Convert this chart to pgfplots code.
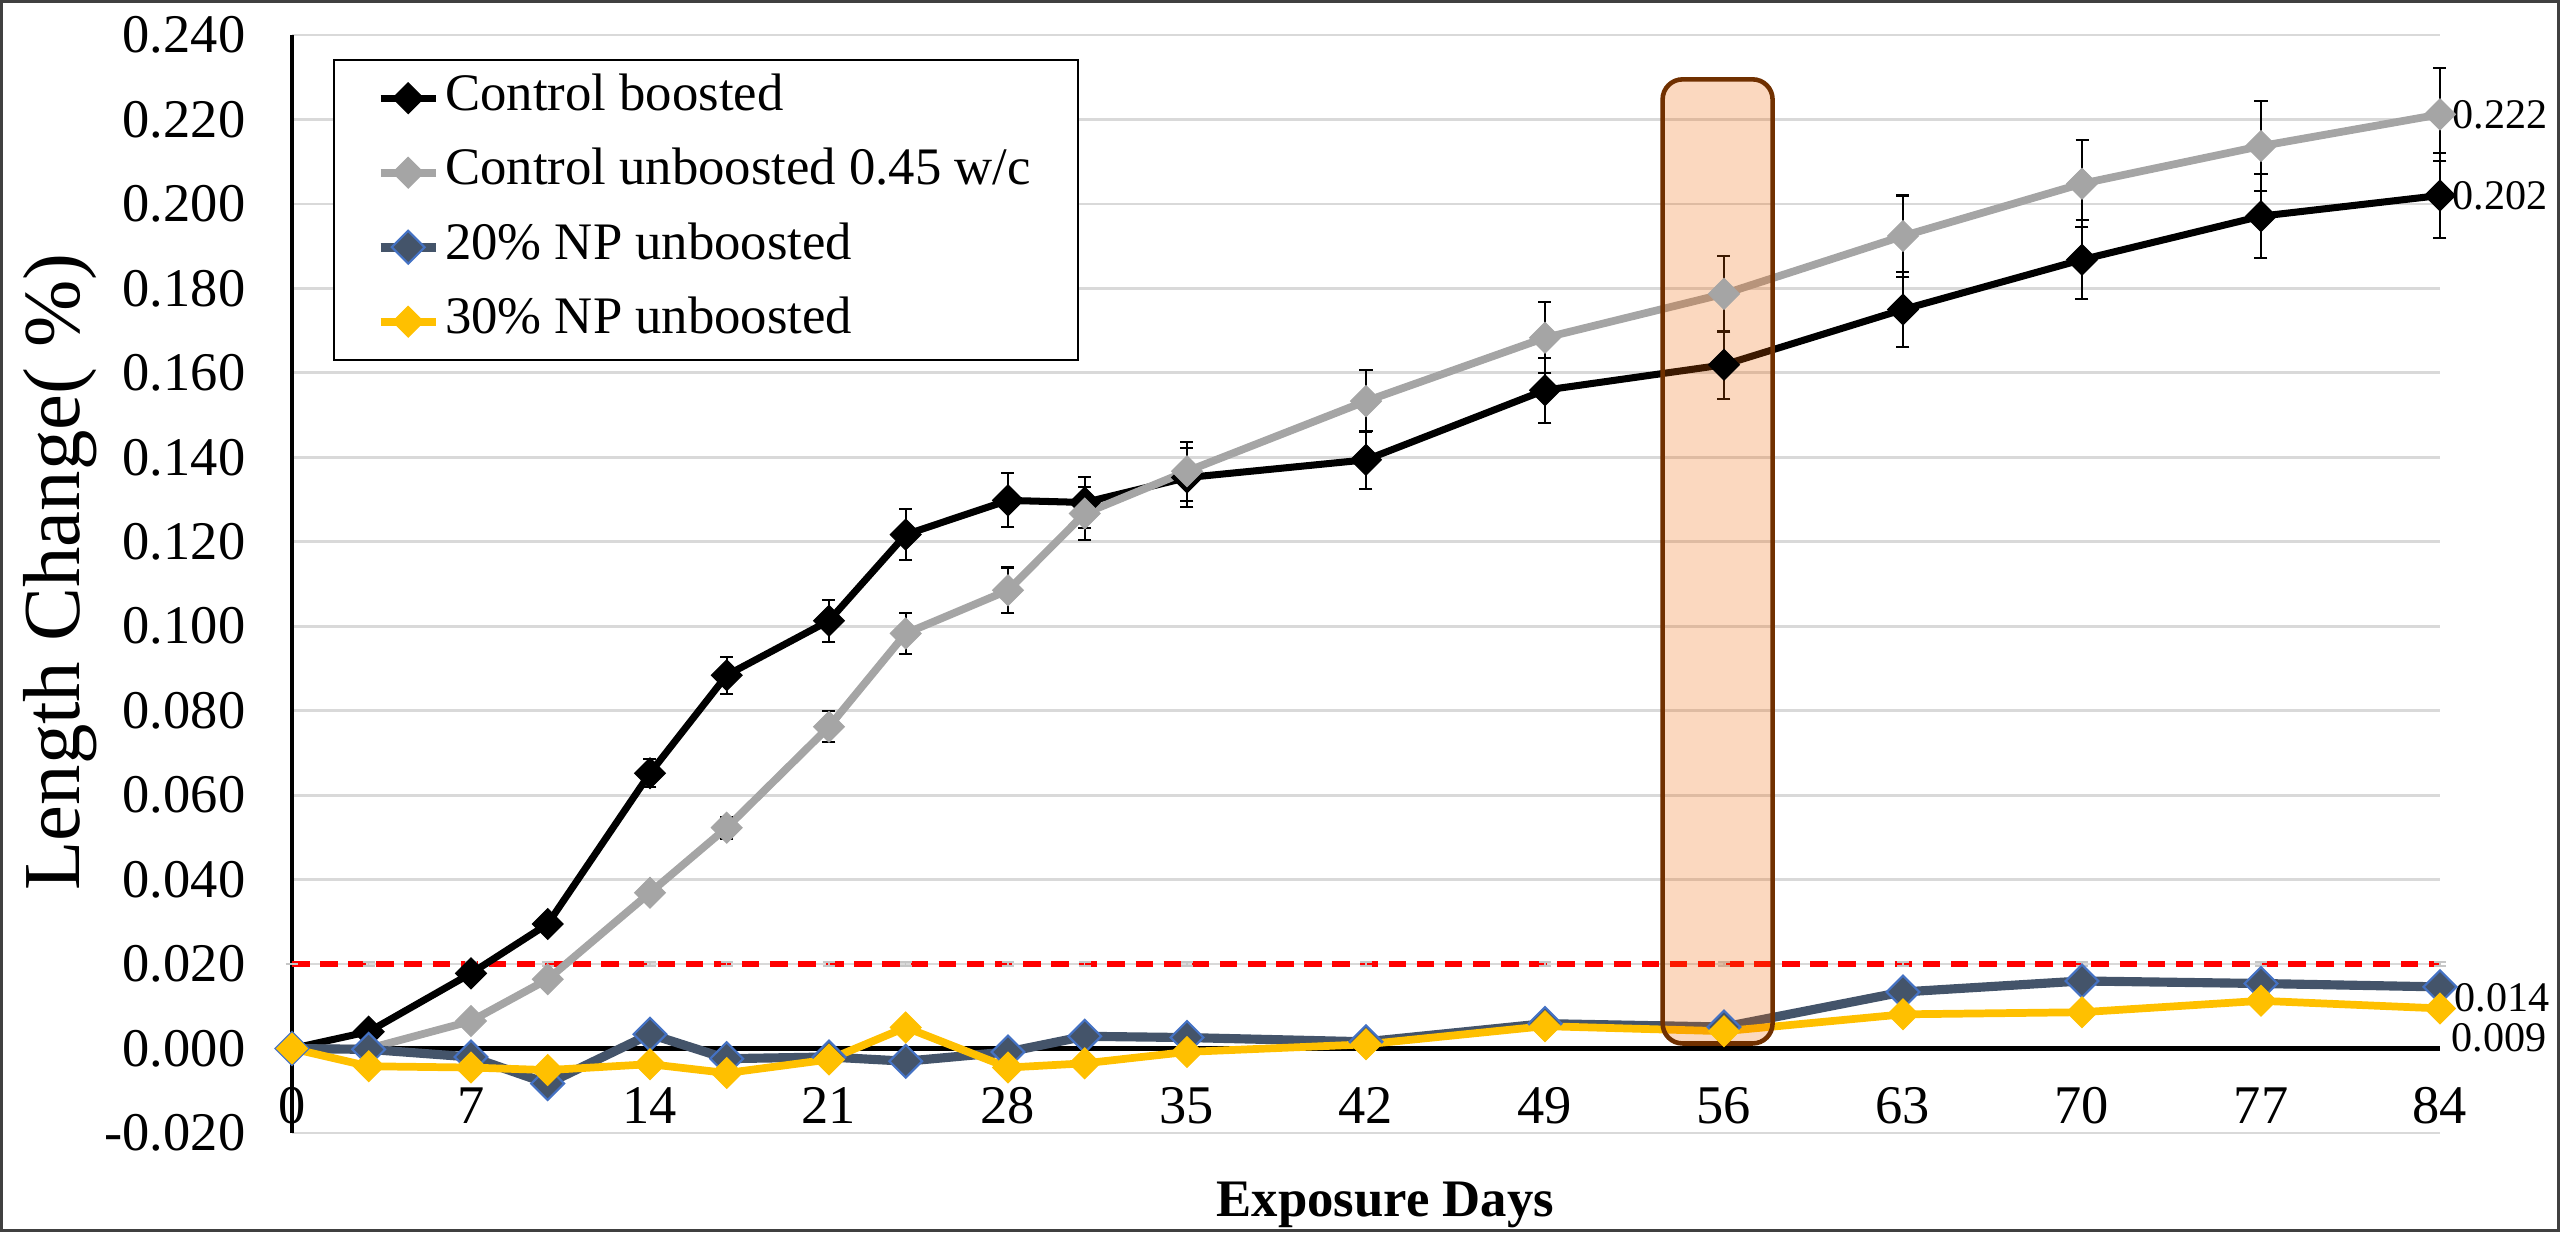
\documentclass[border=0pt]{standalone}
\usepackage{fontspec}
\setmainfont{Liberation Serif}
\usepackage{pgfplots}
\pgfplotsset{compat=1.18}
\usepackage{pgfplotstable}
\usetikzlibrary{calc}

\definecolor{ctrlgray}{HTML}{A5A5A5}
\definecolor{npblue}{HTML}{44546A}
\definecolor{npedge}{HTML}{4472C4}
\definecolor{npyellow}{HTML}{FFC000}
\definecolor{boxedge}{RGB}{112,48,0}
\definecolor{boxfill}{RGB}{240,100,0}
\definecolor{gridgray}{HTML}{D9D9D9}

\newcommand{\tickfont}{\fontsize{15.5}{18}\selectfont}
\newcommand{\legfont}{\fontsize{15}{18}\selectfont}
\newcommand{\valfont}{\fontsize{12}{14}\selectfont}

% day, mean, error
\pgfplotstableread{
day val err
0  0.0000 0
3  0.0040 0.0005
7  0.0178 0.0008
10 0.0295 0.0010
14 0.0652 0.0033
17 0.0884 0.0044
21 0.1013 0.0050
24 0.1217 0.0060
28 0.1298 0.0064
31 0.1293 0.0060
35 0.1352 0.0070
42 0.1394 0.0069
49 0.1559 0.0077
56 0.1619 0.0080
63 0.1750 0.0088
70 0.1868 0.0093
77 0.1971 0.0099
84 0.2020 0.0101
}\boosted

\pgfplotstableread{
day val err
0  0.0000 0
3  0.0000 0
7  0.0065 0.0005
10 0.0164 0.0008
14 0.0369 0.0017
17 0.0523 0.0026
21 0.0762 0.0037
24 0.0983 0.0048
28 0.1085 0.0054
31 0.1267 0.0063
35 0.1367 0.0070
42 0.1533 0.0074
49 0.1683 0.0084
56 0.1787 0.0090
63 0.1924 0.0096
70 0.2048 0.0103
77 0.2137 0.0107
84 0.2212 0.0110
}\unboosted

\pgfplotstableread{
day val
0  0.0000
3  -0.0002
7  -0.0020
10 -0.0083
14 0.0034
17 -0.0024
21 -0.0020
24 -0.0030
28 -0.0008
31 0.0029
35 0.0026
42 0.0016
49 0.0059
56 0.0051
63 0.0134
70 0.0160
77 0.0154
84 0.0146
}\nptwenty

\pgfplotstableread{
day val
0  0.0000
3  -0.0042
7  -0.0045
10 -0.0051
14 -0.0037
17 -0.0058
21 -0.0026
24 0.0050
28 -0.0045
31 -0.0035
35 -0.0008
42 0.0010
49 0.0053
56 0.0041
63 0.0081
70 0.0086
77 0.0113
84 0.0095
}\npthirty

\pgfplotstableread{
day val err
0  0.020 0
3  0.020 0.0005
7  0.020 0.0005
10 0.020 0.0005
14 0.020 0.0005
17 0.020 0.0005
21 0.020 0.0005
24 0.020 0.0005
28 0.020 0.0005
31 0.020 0.0005
35 0.020 0.0005
42 0.020 0.0005
49 0.020 0.0005
56 0.020 0.0005
63 0.020 0.0005
70 0.020 0.0005
77 0.020 0.0005
84 0.020 0.0005
}\limitline

\begin{document}
\begin{tikzpicture}
\begin{axis}[
    scale only axis,
    width=21.48cm, height=10.98cm,
    xmin=0, xmax=84, ymin=-0.02, ymax=0.24,
    clip=false,
    axis x line=middle, axis y line=left,
    axis line style={-},
    x axis line style={black, line width=1.4pt},
    y axis line style={black, line width=1.1pt},
    hide obscured x ticks=false,
    xtick={0,7,14,21,28,35,42,49,56,63,70,77,84},
    ytick={-0.02,0,0.02,0.04,0.06,0.08,0.1,0.12,0.14,0.16,0.18,0.2,0.22,0.24},
    yticklabels={-0.020,0.000,0.020,0.040,0.060,0.080,0.100,0.120,0.140,0.160,0.180,0.200,0.220,0.240},
    /pgf/number format/assume math mode=true,
    scaled y ticks=false,
    major tick length=0pt,
    ymajorgrids,
    grid style={gridgray, line width=0.8pt},
    tick label style={font=\tickfont},
    xticklabel style={anchor=center, yshift=-0.57cm},
    yticklabel style={anchor=east, inner sep=0pt, xshift=-0.46cm},
    xlabel={\textbf{Exposure Days}},
    ylabel={Length Change( \%)},
    xlabel style={at={(rel axis cs:0.509,-0.0656)}, anchor=center, font=\fontsize{15}{18}\selectfont},
    ylabel style={at={(rel axis cs:-0.108,0.511)}, anchor=center, font=\fontsize{23}{27}\selectfont},
    legend cell align=left,
    legend style={at={(rel axis cs:0.0191,0.978)}, anchor=north west,
        draw=black, line width=0.6pt, fill=white, font=\legfont,
        inner xsep=0.42cm, inner ysep=0.13cm, row sep=0.245cm,
        nodes={inner xsep=0.05cm, inner ysep=0pt, text height=0.37cm, text depth=0.13cm}},
    legend image code/.code={
        \draw[mark repeat=2, mark phase=2] plot coordinates {(0cm,0cm) (0.275cm,0cm) (0.55cm,0cm)};
    },
]

% expansion limit
\addplot[red, line width=1.6pt, dash pattern=on 5pt off 3pt, forget plot,
    error bars/.cd, y dir=both, y explicit,
    error bar style={gray!45, line width=0.4pt, solid},
    error mark options={rotate=90, gray!45, mark size=0.06cm, line width=0.4pt, solid}]
    table[x=day, y=val, y error=err] {\limitline};

\addplot[black, line width=2pt, mark=square*,
    mark options={rotate=45, mark size=3.1pt, line width=0.3pt, solid, fill=black},
    error bars/.cd, y dir=both, y explicit,
    error bar style={black, line width=0.6pt},
    error mark options={rotate=90, black, mark size=0.065cm, line width=0.6pt}]
    table[x=day, y=val, y error=err] {\boosted};
\addlegendentry{Control boosted}

\addplot[ctrlgray, line width=2.2pt, mark=square*,
    mark options={rotate=45, mark size=3.1pt, line width=0.3pt, solid, fill=ctrlgray},
    error bars/.cd, y dir=both, y explicit,
    error bar style={black, line width=0.6pt},
    error mark options={rotate=90, black, mark size=0.065cm, line width=0.6pt}]
    table[x=day, y=val, y error=err] {\unboosted};
\addlegendentry{Control unboosted 0.45 w/c}

\addplot[npblue, line width=2.6pt, mark=square*,
    mark options={rotate=45, mark size=3.3pt, line width=0.6pt, solid, draw=npedge, fill=npblue}]
    table[x=day, y=val] {\nptwenty};
\addlegendentry{20\% NP unboosted}

\addplot[npyellow, line width=2.2pt, mark=square*,
    mark options={rotate=45, mark size=3.1pt, line width=0.3pt, solid, fill=npyellow}]
    table[x=day, y=val] {\npthirty};
\addlegendentry{30\% NP unboosted}

% highlight of day 56
\fill[boxfill, opacity=0.25, rounded corners=0.2cm]
    (axis cs:53.6,0.0012) rectangle (axis cs:57.9,0.2295);
\draw[boxedge, line width=1.3pt, rounded corners=0.2cm]
    (axis cs:53.6,0.0012) rectangle (axis cs:57.9,0.2295);

% end values
\node[anchor=west, inner sep=0pt, xshift=0.12cm, font=\valfont] at (axis cs:84,0.2212) {0.222};
\node[anchor=west, inner sep=0pt, xshift=0.12cm, font=\valfont] at (axis cs:84,0.2020) {0.202};
\node[anchor=west, inner sep=0pt, xshift=0.14cm, yshift=-0.11cm, font=\valfont] at (axis cs:84,0.0146) {0.014};
\node[anchor=west, inner sep=0pt, xshift=0.11cm, yshift=-0.29cm, font=\valfont] at (axis cs:84,0.0095) {0.009};
\end{axis}
\pgfresetboundingbox
\path[use as bounding box] ($(current axis.south west)+(-2.92cm,-0.99cm)$) rectangle +(25.6cm,12.32cm);
\draw[line width=0.8pt, black!75] ($(current axis.south west)+(-2.92cm,-0.99cm)+(0.4pt,0.4pt)$) rectangle +(25.6cm-0.8pt,12.32cm-0.8pt);
\end{tikzpicture}
\end{document}
